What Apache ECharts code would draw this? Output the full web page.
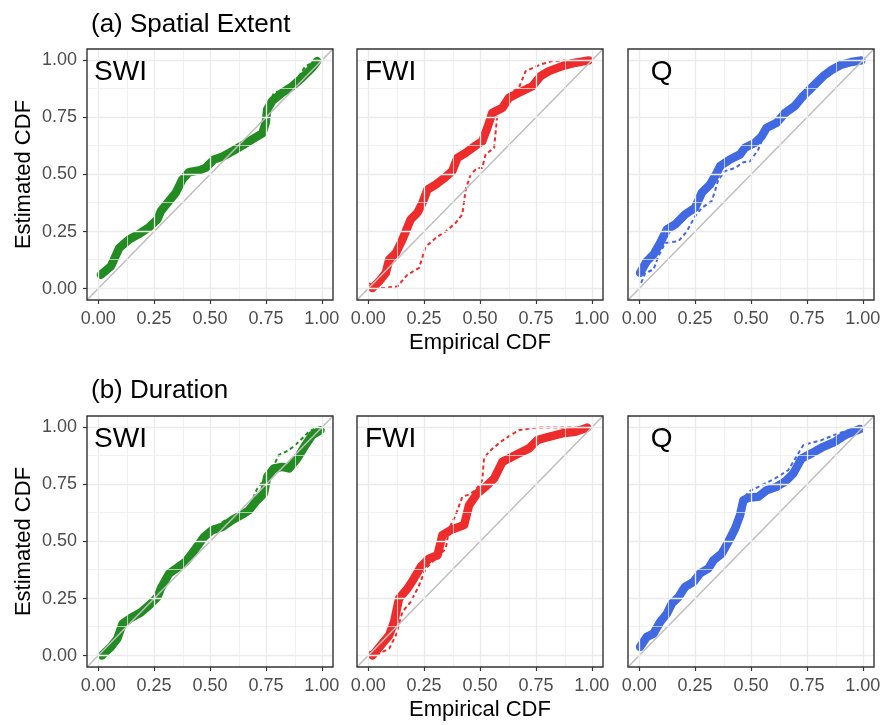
<!DOCTYPE html>
<html>
<head>
<meta charset="utf-8">
<script src="https://cdn.jsdelivr.net/npm/echarts@6/dist/echarts.min.js"></script>
<style>
  html, body { margin: 0; padding: 0; background: #fff; }
  #chart { width: 884px; height: 725px; }
</style>
</head>
<body>
<div id="chart"></div>
<script>
const ticks = [0, 0.25, 0.5, 0.75, 1];
const minorTicks = [0.125, 0.375, 0.625, 0.875];
const extent = [-0.05, 1.05];
const panelNames = ["SWI", "FWI", "Q"];
const panelColors = ["#228B22", "#EE2C2C", "#4169E1"];
const rowTitles = ["(a) Spatial Extent", "(b) Duration"];
const labelAnchor = [0.1, 0.95];

// (a) spatial extent: [empirical, estimated]
const extentSwiSolid = [
  [0.012, 0.061], [0.057, 0.098], [0.094, 0.178], [0.138, 0.215], [0.183, 0.24],
  [0.228, 0.269], [0.265, 0.303], [0.28, 0.339], [0.31, 0.376], [0.347, 0.42],
  [0.376, 0.478], [0.406, 0.51], [0.451, 0.518], [0.48, 0.529], [0.518, 0.566],
  [0.555, 0.578], [0.6, 0.602], [0.644, 0.627], [0.689, 0.654], [0.734, 0.68],
  [0.749, 0.727], [0.756, 0.785], [0.778, 0.822], [0.823, 0.858], [0.868, 0.887],
  [0.912, 0.924], [0.957, 0.968], [0.979, 0.997]
];
const extentSwiDashed = [
  [0.012, 0.06], [0.057, 0.095], [0.094, 0.175], [0.138, 0.212], [0.183, 0.238],
  [0.228, 0.266], [0.265, 0.3], [0.28, 0.336], [0.31, 0.372], [0.347, 0.418],
  [0.376, 0.475], [0.406, 0.508], [0.451, 0.516], [0.48, 0.528], [0.518, 0.562],
  [0.555, 0.578], [0.6, 0.605], [0.644, 0.63], [0.689, 0.658], [0.734, 0.69],
  [0.749, 0.74], [0.76, 0.8], [0.786, 0.858], [0.823, 0.868], [0.868, 0.902],
  [0.9, 0.935], [0.927, 0.975], [0.95, 0.985], [0.979, 1.0]
];
const extentFwiSolid = [
  [0.019, 0.003], [0.049, 0.032], [0.079, 0.069], [0.094, 0.127], [0.124, 0.156],
  [0.153, 0.215], [0.19, 0.303], [0.22, 0.332], [0.243, 0.376], [0.265, 0.434],
  [0.302, 0.456], [0.347, 0.49], [0.376, 0.515], [0.399, 0.573], [0.436, 0.595],
  [0.481, 0.627], [0.51, 0.646], [0.533, 0.705], [0.555, 0.77], [0.6, 0.792],
  [0.629, 0.836], [0.674, 0.858], [0.734, 0.887], [0.771, 0.931], [0.808, 0.953],
  [0.868, 0.975], [0.927, 0.99], [0.987, 1.0]
];
const extentFwiDashed = [
  [0.004, 0.025], [0.027, 0.003], [0.079, 0.003], [0.131, 0.01], [0.176, 0.061],
  [0.228, 0.091], [0.257, 0.183], [0.302, 0.222], [0.347, 0.251], [0.391, 0.288],
  [0.421, 0.325], [0.436, 0.434], [0.458, 0.5], [0.488, 0.529], [0.51, 0.529],
  [0.525, 0.588], [0.563, 0.617], [0.577, 0.756], [0.6, 0.807], [0.637, 0.858],
  [0.674, 0.88], [0.704, 0.953], [0.771, 0.982], [0.823, 0.997], [0.882, 1.0],
  [0.987, 1.0]
];
const extentQSolid = [
  [0.004, 0.069], [0.034, 0.12], [0.064, 0.149], [0.094, 0.2], [0.124, 0.259],
  [0.161, 0.281], [0.205, 0.325], [0.25, 0.354], [0.28, 0.42], [0.317, 0.456],
  [0.347, 0.507], [0.362, 0.537], [0.406, 0.566], [0.451, 0.588], [0.473, 0.617],
  [0.518, 0.639], [0.548, 0.668], [0.57, 0.705], [0.615, 0.727], [0.652, 0.77],
  [0.696, 0.8], [0.726, 0.836], [0.748, 0.858], [0.786, 0.895], [0.823, 0.931],
  [0.86, 0.958], [0.905, 0.982], [0.949, 0.993], [0.994, 1.0]
];
const extentQDashed = [
  [0.009, 0.025], [0.027, 0.069], [0.064, 0.083], [0.086, 0.142], [0.116, 0.2],
  [0.176, 0.208], [0.213, 0.251], [0.25, 0.317], [0.28, 0.354], [0.324, 0.383],
  [0.339, 0.427], [0.354, 0.478], [0.384, 0.515], [0.429, 0.529], [0.466, 0.554],
  [0.496, 0.558], [0.533, 0.61], [0.57, 0.7], [0.615, 0.725], [0.652, 0.768],
  [0.696, 0.798], [0.726, 0.834], [0.748, 0.856], [0.786, 0.893], [0.823, 0.929],
  [0.86, 0.956], [0.905, 0.98], [0.949, 0.992], [0.994, 1.0]
];

// (b) duration
const durationSwiSolid = [
  [0.016, 0.0], [0.057, 0.038], [0.086, 0.075], [0.109, 0.14], [0.146, 0.165],
  [0.19, 0.189], [0.228, 0.221], [0.265, 0.257], [0.28, 0.294], [0.317, 0.36],
  [0.354, 0.385], [0.391, 0.411], [0.436, 0.469], [0.473, 0.52], [0.51, 0.55],
  [0.555, 0.564], [0.6, 0.594], [0.644, 0.618], [0.674, 0.637], [0.704, 0.674],
  [0.741, 0.71], [0.756, 0.784], [0.786, 0.82], [0.823, 0.827], [0.853, 0.82],
  [0.89, 0.864], [0.927, 0.923], [0.957, 0.966], [0.994, 0.988]
];
const durationSwiDashed = [
  [0.016, 0.005], [0.057, 0.04], [0.086, 0.078], [0.109, 0.138], [0.146, 0.163],
  [0.19, 0.19], [0.228, 0.224], [0.265, 0.26], [0.28, 0.296], [0.317, 0.358],
  [0.354, 0.388], [0.391, 0.415], [0.436, 0.472], [0.473, 0.522], [0.51, 0.553],
  [0.57, 0.594], [0.6, 0.6], [0.644, 0.625], [0.674, 0.645], [0.711, 0.732],
  [0.756, 0.79], [0.786, 0.835], [0.808, 0.879], [0.853, 0.9], [0.897, 0.937],
  [0.942, 0.981], [0.979, 1.0]
];
const durationFwiSolid = [
  [0.019, 0.0], [0.057, 0.045], [0.094, 0.089], [0.116, 0.148], [0.138, 0.25],
  [0.176, 0.294], [0.205, 0.338], [0.235, 0.389], [0.272, 0.425], [0.31, 0.44],
  [0.332, 0.528], [0.369, 0.55], [0.429, 0.572], [0.451, 0.659], [0.488, 0.711],
  [0.525, 0.74], [0.563, 0.776], [0.6, 0.849], [0.659, 0.879], [0.719, 0.908],
  [0.756, 0.944], [0.808, 0.959], [0.868, 0.974], [0.927, 0.981], [0.979, 0.999]
];
const durationFwiDashed = [
  [0.004, 0.016], [0.049, 0.009], [0.094, 0.031], [0.124, 0.089], [0.153, 0.192],
  [0.19, 0.235], [0.228, 0.308], [0.257, 0.382], [0.302, 0.425], [0.347, 0.469],
  [0.362, 0.557], [0.391, 0.616], [0.421, 0.696], [0.451, 0.706], [0.481, 0.725],
  [0.51, 0.769], [0.518, 0.864], [0.54, 0.893], [0.592, 0.937], [0.637, 0.966],
  [0.674, 0.988], [0.749, 0.999], [0.868, 1.0], [0.987, 1.0]
];
const durationQSolid = [
  [0.004, 0.038], [0.034, 0.082], [0.064, 0.096], [0.094, 0.148], [0.124, 0.184],
  [0.146, 0.228], [0.176, 0.257], [0.205, 0.301], [0.243, 0.323], [0.272, 0.36],
  [0.31, 0.382], [0.332, 0.418], [0.369, 0.447], [0.399, 0.499], [0.429, 0.557],
  [0.451, 0.615], [0.466, 0.681], [0.488, 0.692], [0.533, 0.696], [0.57, 0.725],
  [0.615, 0.74], [0.652, 0.762], [0.689, 0.798], [0.726, 0.864], [0.771, 0.886],
  [0.823, 0.915], [0.875, 0.937], [0.92, 0.966], [0.987, 0.993]
];
const durationQDashed = [
  [0.004, 0.038], [0.034, 0.082], [0.064, 0.096], [0.094, 0.148], [0.124, 0.184],
  [0.146, 0.228], [0.176, 0.257], [0.205, 0.301], [0.243, 0.323], [0.272, 0.36],
  [0.31, 0.382], [0.332, 0.418], [0.369, 0.447], [0.399, 0.499], [0.429, 0.557],
  [0.451, 0.615], [0.466, 0.681], [0.488, 0.718], [0.548, 0.747], [0.607, 0.776],
  [0.667, 0.813], [0.734, 0.923], [0.815, 0.944], [0.89, 0.974], [0.964, 0.996]
];

const solidRows = [
  [extentSwiSolid, extentFwiSolid, extentQSolid],
  [durationSwiSolid, durationFwiSolid, durationQSolid],
];
const dashedRows = [
  [extentSwiDashed, extentFwiDashed, extentQDashed],
  [durationSwiDashed, durationFwiDashed, durationQDashed],
];

const font = "Liberation Sans, Arial, Helvetica, sans-serif";
const panelLefts = [87, 357, 628];
const panelTops = [49, 416];
const panelWidth = 246;
const panelHeight = 251;

const grids = [];
const xAxes = [];
const yAxes = [];
const series = [];

function gridLines() {
  const major = { color: "#EBEBEB", width: 1.3, type: "solid" };
  const minor = { color: "#EBEBEB", width: 0.7, type: "solid" };
  const items = [];
  ticks.forEach((v) => {
    items.push({ xAxis: v, lineStyle: major });
    items.push({ yAxis: v, lineStyle: major });
  });
  minorTicks.forEach((v) => {
    items.push({ xAxis: v, lineStyle: minor });
    items.push({ yAxis: v, lineStyle: minor });
  });
  return items;
}

rowTitles.forEach((title, row) => {
  panelNames.forEach((name, col) => {
    const idx = grids.length;
    grids.push({
      left: panelLefts[col],
      top: panelTops[row],
      width: panelWidth,
      height: panelHeight,
      show: true,
      z: 10,
      backgroundColor: "transparent",
      borderColor: "#333333",
      borderWidth: 1.4,
    });
    xAxes.push({
      type: "value",
      gridIndex: idx,
      min: extent[0],
      max: extent[1],
      axisLine: { show: false, onZero: false },
      splitLine: { show: false },
      axisTick: {
        show: true,
        length: 4,
        customValues: ticks,
        lineStyle: { color: "#333333", width: 1.2 },
      },
      axisLabel: {
        show: true,
        customValues: ticks,
        formatter: (v) => v.toFixed(2),
        color: "#4D4D4D",
        fontSize: 18,
        fontFamily: font,
        margin: 10,
      },
      name: col === 1 ? "Empirical CDF" : "",
      nameLocation: "middle",
      nameGap: 32,
      nameTextStyle: { fontSize: 22, color: "#000", fontFamily: font },
    });
    yAxes.push({
      type: "value",
      gridIndex: idx,
      min: extent[0],
      max: extent[1],
      axisLine: { show: false, onZero: false },
      splitLine: { show: false },
      axisTick: {
        show: col === 0,
        length: 4,
        customValues: ticks,
        lineStyle: { color: "#333333", width: 1.2 },
      },
      axisLabel: {
        show: col === 0,
        customValues: ticks,
        formatter: (v) => v.toFixed(2),
        color: "#4D4D4D",
        fontSize: 18,
        fontFamily: font,
        margin: 10,
      },
      name: col === 0 ? "Estimated CDF" : "",
      nameLocation: "middle",
      nameGap: 52,
      nameTextStyle: { fontSize: 22, color: "#000", fontFamily: font },
    });

    series.push({
      type: "line",
      xAxisIndex: idx,
      yAxisIndex: idx,
      data: [],
      silent: true,
      z: 1,
      markLine: {
        silent: true,
        symbol: "none",
        label: { show: false },
        animation: false,
        data: gridLines(),
      },
    });
    series.push({
      type: "line",
      xAxisIndex: idx,
      yAxisIndex: idx,
      data: dashedRows[row][col],
      showSymbol: false,
      silent: true,
      z: 2,
      lineStyle: { color: panelColors[col], width: 2, type: [4, 3] },
    });
    series.push({
      type: "line",
      xAxisIndex: idx,
      yAxisIndex: idx,
      data: solidRows[row][col],
      showSymbol: false,
      silent: true,
      z: 3,
      lineStyle: { color: panelColors[col], width: 8.5, cap: "round", join: "round" },
    });
    series.push({
      type: "line",
      xAxisIndex: idx,
      yAxisIndex: idx,
      data: [[extent[0], extent[0]], [extent[1], extent[1]]],
      showSymbol: false,
      silent: true,
      z: 4,
      lineStyle: { color: "#BEBEBE", width: 1.5 },
    });
    series.push({
      type: "scatter",
      xAxisIndex: idx,
      yAxisIndex: idx,
      data: [labelAnchor],
      symbolSize: 1,
      silent: true,
      z: 5,
      itemStyle: { color: "transparent", opacity: 1 },
      label: {
        show: true,
        position: "inside",
        formatter: name,
        color: "#000",
        opacity: 1,
        fontSize: 28,
        fontFamily: font,
      },
    });
  });
});

const chart = echarts.init(document.getElementById("chart"), null, { renderer: "canvas" });
chart.setOption({
  animation: false,
  backgroundColor: "#fff",
  title: rowTitles.map((text, row) => ({
    text,
    left: 86,
    top: row === 0 ? 7 : 373,
    textStyle: { fontSize: 26, fontWeight: "normal", color: "#000", fontFamily: font },
  })),
  grid: grids,
  xAxis: xAxes,
  yAxis: yAxes,
  series,
});
</script>
</body>
</html>
